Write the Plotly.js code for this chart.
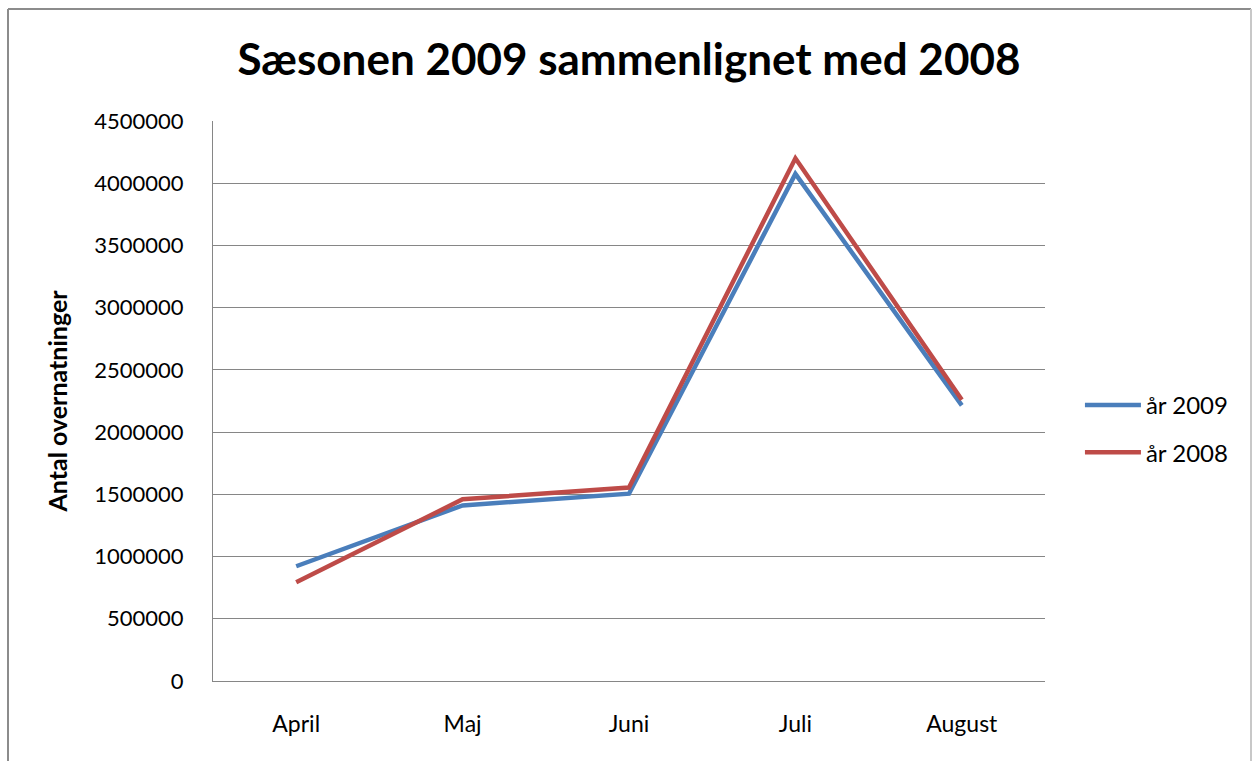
<!DOCTYPE html>
<html>
<head>
<meta charset="utf-8">
<script src="https://cdn.plot.ly/plotly-3.0.1.min.js"></script>
<style>
  html, body { margin: 0; padding: 0; background: #fff; }
  #chart { width: 1252px; height: 761px; }
</style>
</head>
<body>
<div id="chart"></div>
<script>
const months = ["April", "Maj", "Juni", "Juli", "August"];
const values2009 = [922000, 1411000, 1505000, 4075000, 2215000];
const values2008 = [793000, 1460000, 1555000, 4200000, 2260000];
const seriesNames = ["år 2009", "år 2008"];
const chartTitle = "Sæsonen 2009 sammenlignet med 2008";
const yTitle = "Antal overnatninger";

const FONT = "Lato, 'Open Sans', sans-serif";

const traces = [
  {
    x: months, y: values2009, name: seriesNames[0], type: "scatter", mode: "lines",
    line: { color: "#4A7EBB", width: 4.5 }, legendgroup: "a", hoverinfo: "x+y"
  },
  {
    x: months, y: values2008, name: seriesNames[1], type: "scatter", mode: "lines",
    line: { color: "#BE4B48", width: 4.5 }, legendgroup: "b", hoverinfo: "x+y"
  }
];

const borderColor = "#8c8c8c";
const layout = {
  width: 1252, height: 761,
  margin: { l: 213, r: 207, t: 121, b: 80, autoexpand: false },
  paper_bgcolor: "#ffffff", plot_bgcolor: "#ffffff",
  font: { family: FONT, size: 20, color: "#000" },
  title: {
    text: "<b>" + chartTitle + "</b>",
    font: { family: FONT, size: 44, color: "#000" },
    xref: "paper", x: 0.5, xanchor: "center",
    yref: "container", y: 1 - 60 / 761, yanchor: "middle"
  },
  xaxis: {
    type: "category", range: [-0.5, 4.5],
    showgrid: false, showline: true, linecolor: "#868686", linewidth: 1,
    ticks: "", ticklabelstandoff: 22, zeroline: false,
    tickfont: { family: FONT, size: 23, color: "#000" }
  },
  yaxis: {
    range: [0, 4500000], dtick: 500000, tick0: 0,
    showgrid: true, gridcolor: "#868686", gridwidth: 1,
    showline: true, linecolor: "#868686", linewidth: 1,
    ticks: "", ticklabelstandoff: 24, zeroline: false,
    tickformat: "d", separatethousands: false,
    tickfont: { family: FONT, size: 22, color: "#000" },
    title: { text: "<b>" + yTitle + "</b>", font: { family: FONT, size: 25, color: "#000" }, standoff: 19 }
  },
  showlegend: true,
  legend: {
    x: 1.042, xanchor: "left", y: 0.45, yanchor: "middle",
    traceorder: "grouped", tracegroupgap: 13,
    font: { family: FONT, size: 24, color: "#000" },
    bgcolor: "rgba(0,0,0,0)", itemwidth: 56
  },
  shapes: [
    { type: "line", xref: "paper", yref: "paper", x0: (8 - 213) / 832, x1: (1251 - 213) / 832, y0: (681 - 9) / 560, y1: (681 - 9) / 560, line: { color: borderColor, width: 2 } },
    { type: "line", xref: "paper", yref: "paper", x0: (8 - 213) / 832, x1: (8 - 213) / 832, y0: (681 - 9) / 560, y1: (681 - 800) / 560, line: { color: borderColor, width: 2 } },
    { type: "line", xref: "paper", yref: "paper", x0: (1251 - 213) / 832, x1: (1251 - 213) / 832, y0: (681 - 9) / 560, y1: (681 - 800) / 560, line: { color: "#c8c8c8", width: 2 } }
  ]
};

Plotly.newPlot("chart", traces, layout, { displayModeBar: false, staticPlot: true });
</script>
</body>
</html>
